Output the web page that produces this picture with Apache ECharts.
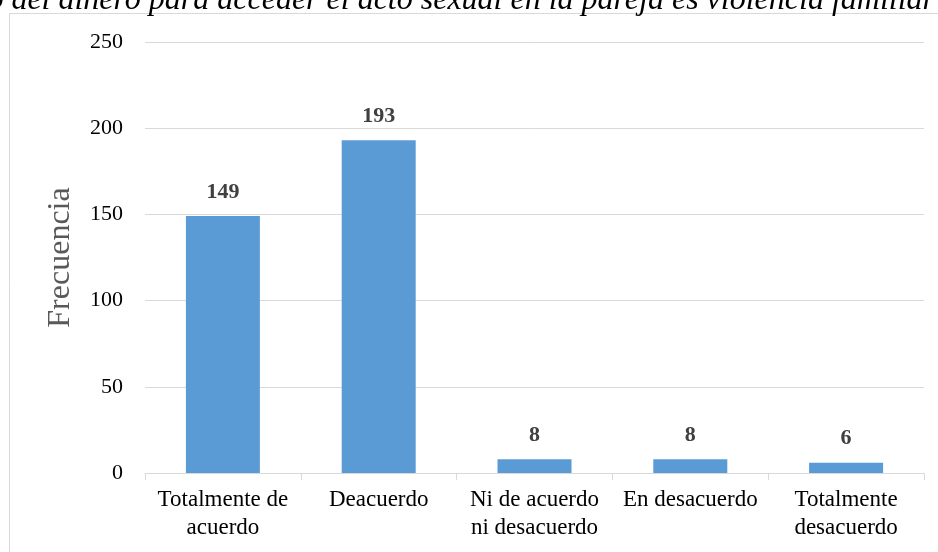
<!DOCTYPE html>
<html>
<head>
<meta charset="utf-8">
<script src="https://cdn.jsdelivr.net/npm/echarts@6/dist/echarts.min.js"></script>
<style>
  html, body { margin: 0; padding: 0; background: #fff; }
  #chart { width: 938px; height: 552px; }
</style>
</head>
<body>
<div id="chart"></div>
<script>
// datos
var titleText = 'El uso del dinero para acceder el acto sexual en la pareja es violencia familiar'
var categories = ['Totalmente de\nacuerdo', 'Deacuerdo', 'Ni de acuerdo\nni desacuerdo', 'En desacuerdo', 'Totalmente\ndesacuerdo']
var frecuencia = [149, 193, 8, 8, 6]
var yTicks = { min: 0, max: 250, interval: 50 }

var serif = '"Liberation Serif", "Times New Roman", serif'
var chart = echarts.init(document.getElementById('chart'))

chart.setOption({
  animation: false,
  backgroundColor: '#fff',
  graphic: [
    {
      type: 'rect',
      shape: { x: 9.5, y: 13.5, width: 940, height: 560 },
      style: { fill: 'none', stroke: '#d9d9d9', lineWidth: 1 },
      silent: true
    },
    {
      type: 'text',
      x: 935,
      y: 17,
      style: {
        text: titleText,
        font: 'italic 32px ' + serif,
        fill: '#000',
        textAlign: 'right',
        textVerticalAlign: 'bottom'
      },
      silent: true
    }
  ],
  grid: {
    left: 145,
    right: 14,
    top: 42,
    bottom: 79,
    containLabel: false
  },
  xAxis: {
    type: 'category',
    data: categories,
    axisLine: { lineStyle: { color: '#d9d9d9', width: 1 } },
    axisTick: { show: true, length: 7, lineStyle: { color: '#d9d9d9' } },
    axisLabel: {
      interval: 0,
      margin: 13,
      color: '#000',
      fontFamily: serif,
      fontSize: 23,
      lineHeight: 28
    }
  },
  yAxis: {
    type: 'value',
    min: yTicks.min,
    max: yTicks.max,
    interval: yTicks.interval,
    name: 'Frecuencia',
    nameLocation: 'middle',
    nameGap: 68,
    nameTextStyle: { color: '#595959', fontFamily: serif, fontSize: 32 },
    axisLine: { show: false },
    axisTick: { show: false },
    splitLine: { lineStyle: { color: '#d9d9d9', width: 1 } },
    axisLabel: {
      margin: 22,
      color: '#000',
      fontFamily: serif,
      fontSize: 22
    }
  },
  series: [
    {
      type: 'bar',
      data: frecuencia,
      barWidth: 74,
      itemStyle: { color: '#5b9bd5' },
      label: {
        show: true,
        position: 'top',
        distance: 13,
        color: '#404040',
        fontFamily: serif,
        fontWeight: 'bold',
        fontSize: 22
      }
    }
  ]
})
</script>
</body>
</html>
